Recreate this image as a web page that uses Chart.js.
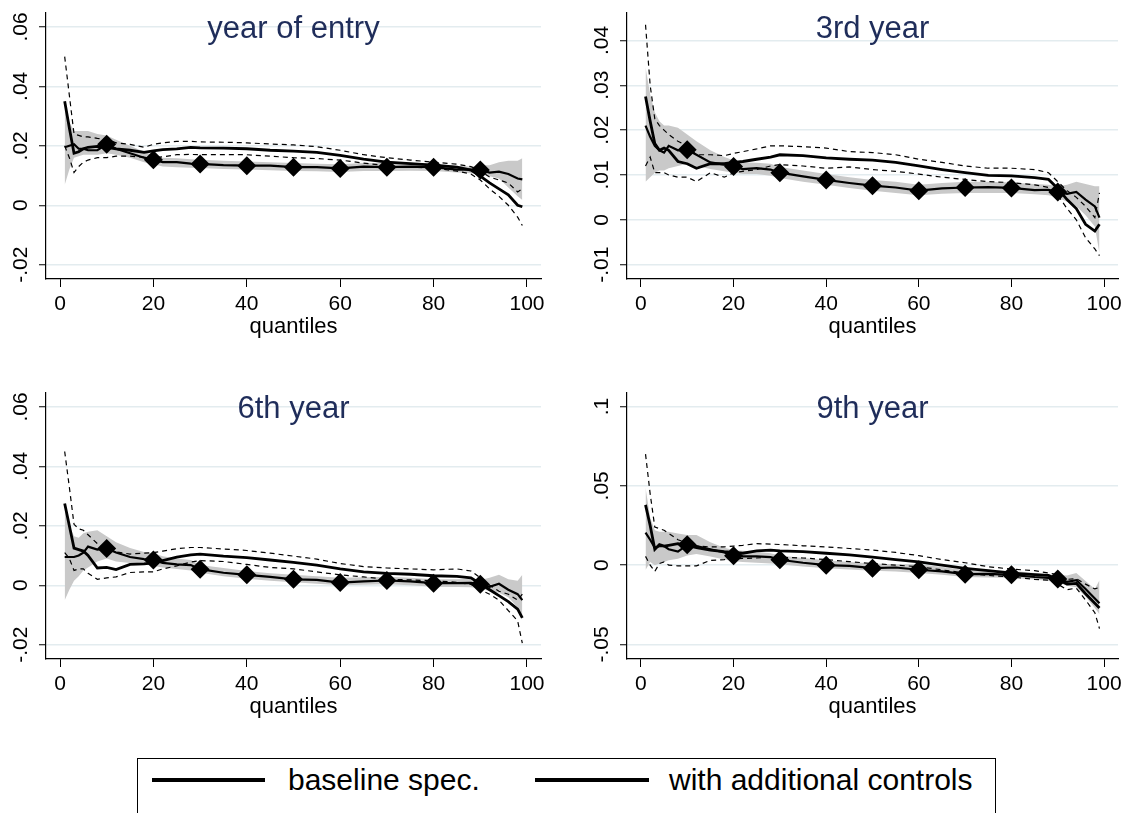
<!DOCTYPE html>
<html>
<head>
<meta charset="utf-8">
<script src="https://cdn.jsdelivr.net/npm/chart.js@4.4.1/dist/chart.umd.min.js"></script>
<style>
  body { margin: 0; background: #fff; width: 1137px; height: 813px; overflow: hidden; position: relative; font-family: "Liberation Sans", Arial, sans-serif; }
  canvas { position: absolute; }
  #legend { position: absolute; left: 137px; top: 758px; width: 859px; height: 80px; border: 1.5px solid #000; box-sizing: border-box; }
  #legend .key { position: absolute; top: 19px; height: 4px; background: #000; }
  #legend .lab { position: absolute; top: 3px; font-size: 30px; line-height: 36px; color: #000; white-space: nowrap; }
</style>
</head>
<body>
<canvas id="p1" width="568" height="340" style="left:0;top:0"></canvas>
<canvas id="p2" width="569" height="340" style="left:568px;top:0"></canvas>
<canvas id="p3" width="568" height="340" style="left:0;top:380px"></canvas>
<canvas id="p4" width="569" height="340" style="left:568px;top:380px"></canvas>
<div id="legend">
  <div class="key" style="left:14px;width:113px"></div>
  <div class="lab" id="lab1" style="left:150px"></div>
  <div class="key" style="left:397px;width:114px"></div>
  <div class="lab" id="lab2" style="left:531px"></div>
</div>
<script>
const Q = [1,2,3,4,5,6,8,10,12,15,18,20,22,25,28,30,35,40,45,50,55,60,65,70,75,80,85,88,90,92,94,96,98,99];
const markerQ = [10,20,30,40,50,60,70,80,90];
const xTicks = [0,20,40,60,80,100];
const panelTitles = ['year of entry', '3rd year', '6th year', '9th year'];
const legendLabels = ['baseline spec.', 'with additional controls'];

// year of entry
const entryBase   = [.0195,.020,.0205,.019,.019,.0185,.0185,.0205,.019,.0175,.016,.0153,.0145,.0145,.014,.0139,.0135,.0133,.0133,.0128,.0128,.0124,.013,.0128,.013,.0128,.012,.012,.0119,.011,.0113,.0105,.009,.0087];
const entryBaseLo = [.0068,.012,.016,.0165,.017,.017,.017,.0175,.017,.016,.0145,.0138,.013,.0128,.0126,.0125,.0122,.012,.0118,.0115,.0114,.0112,.0115,.0115,.0116,.0115,.011,.0108,.0105,.0098,.009,.006,.003,.0018];
const entryBaseHi = [.0325,.028,.025,.025,.025,.025,.024,.0235,.022,.020,.018,.0168,.016,.0158,.0155,.0153,.015,.0147,.0145,.0142,.014,.0138,.0142,.0142,.0143,.014,.0132,.013,.0135,.0135,.0145,.015,.015,.0158];
const entryCtrl   = [.035,.026,.0175,.018,.019,.0195,.0198,.0195,.019,.0185,.0178,.0183,.0187,.019,.0195,.0193,.0192,.019,.0185,.0182,.0178,.0168,.0155,.0145,.014,.0135,.0128,.0118,.0098,.0075,.0055,.0035,.000,-.0005];
const entryCtrlLo = [.020,.016,.011,.013,.0145,.0152,.016,.016,.0165,.0165,.0162,.016,.0163,.017,.0171,.017,.017,.017,.0165,.016,.0157,.0152,.0142,.0133,.0128,.0125,.0115,.0105,.0085,.0055,.003,.000,-.004,-.0068];
const entryCtrlHi = [.050,.037,.024,.0235,.023,.023,.0225,.0222,.021,.0205,.0195,.0205,.021,.0215,.0215,.0213,.0212,.021,.0206,.0203,.0197,.0185,.017,.016,.0152,.0145,.0138,.013,.0115,.0095,.0085,.0075,.0045,.0055];

// 3rd year
const y3Base   = [.021,.0185,.0165,.0155,.015,.0165,.0155,.0156,.0145,.0128,.0123,.0119,.0113,.0115,.0112,.0105,.0097,.0089,.0082,.0076,.0072,.0065,.007,.0072,.0073,.0071,.0066,.0067,.0062,.0058,.0062,.0045,.003,.0005];
const y3BaseLo = [.0085,.0095,.0105,.011,.011,.0115,.012,.0125,.012,.0113,.0108,.0105,.0102,.0102,.0098,.0093,.0085,.0078,.0071,.0065,.006,.0055,.0058,.006,.006,.006,.0057,.0055,.005,.004,.003,.001,-.0015,-.0075];
const y3BaseHi = [.034,.028,.024,.022,.021,.021,.0205,.019,.0175,.0155,.014,.0133,.0128,.0127,.0125,.0118,.011,.0102,.0095,.0089,.0085,.0078,.0082,.0085,.0085,.0083,.008,.0078,.0075,.0078,.0085,.008,.0075,.0075];
const y3Ctrl   = [.0275,.022,.017,.0155,.016,.0155,.013,.0125,.0115,.0125,.0125,.0128,.013,.0135,.014,.0145,.0143,.0138,.0135,.0133,.0128,.012,.0112,.0105,.0099,.0098,.0094,.009,.007,.0045,.0025,-.001,-.0025,-.001];
const y3CtrlLo = [.012,.014,.0105,.0105,.0105,.010,.0095,.0095,.0085,.0105,.0095,.0105,.0108,.0112,.012,.0123,.012,.0115,.0118,.0112,.0108,.0102,.0095,.009,.0085,.0083,.0078,.0072,.0055,.0025,.000,-.004,-.0065,-.008];
const y3CtrlHi = [.0435,.030,.0225,.021,.020,.019,.0175,.0165,.0145,.0145,.0143,.0148,.0152,.0158,.0165,.0165,.0163,.016,.0152,.015,.0145,.0135,.0128,.012,.0115,.0115,.0112,.0105,.0085,.0065,.005,.003,.0005,.006];

// 6th year
const y6Base   = [.0095,.0095,.0095,.010,.011,.013,.012,.0124,.011,.0095,.0088,.0085,.0075,.007,.0068,.0054,.0042,.0035,.0028,.002,.0018,.0009,.0013,.0016,.0013,.0007,.0007,.0008,.0003,-.0005,.0005,-.0015,-.003,-.005];
const y6BaseLo = [-.005,-.0015,.0015,.003,.005,.006,.008,.009,.008,.0075,.007,.0065,.006,.0055,.005,.0042,.003,.0022,.0015,.001,.0005,.000,.0002,.0003,.000,-.0005,-.0006,-.0007,-.001,-.002,-.0025,-.004,-.0075,-.0115];
const y6BaseHi = [.027,.020,.0165,.016,.0175,.018,.0185,.0165,.0145,.0125,.0112,.0108,.0098,.009,.0085,.0068,.0058,.0048,.004,.0035,.003,.0025,.0027,.0029,.0025,.002,.002,.0022,.0018,.0025,.0035,.002,.0015,.0035];
const y6Ctrl   = [.0275,.020,.0125,.012,.0115,.010,.0058,.006,.0053,.007,.0072,.0075,.0083,.0095,.0102,.0105,.0098,.0093,.0085,.0077,.0068,.0055,.0045,.004,.0037,.0032,.003,.0025,.0005,-.0015,-.0035,-.0055,-.008,-.011];
const y6CtrlLo = [.011,.009,.005,.0055,.0055,.004,.002,.0025,.0028,.0043,.0045,.0045,.0055,.0065,.0078,.0083,.008,.007,.006,.0055,.0045,.0035,.0028,.002,.0018,.0015,.001,.0003,-.0015,-.003,-.005,-.0085,-.012,-.0195];
const y6CtrlHi = [.045,.033,.0205,.019,.0185,.017,.014,.0125,.0112,.0105,.0108,.011,.0115,.0123,.0127,.0127,.0122,.0117,.0108,.0098,.0088,.0073,.0063,.0058,.0055,.0052,.0055,.0048,.0025,.000,-.002,-.003,-.005,-.003];

// 9th year
const y9Base   = [.0205,.016,.011,.012,.012,.010,.0085,.0128,.012,.010,.008,.0059,.0055,.0055,.005,.0034,.0015,.000,-.0005,-.0019,-.0015,-.0029,-.004,-.0057,-.0055,-.0061,-.0075,-.008,-.0088,-.0105,-.0095,-.015,-.021,-.024];
const y9BaseLo = [-.003,.002,.000,.001,.002,.003,.004,.006,.007,.0055,.0035,.0025,.002,.0015,.001,.0005,-.0008,-.002,-.0028,-.0035,-.004,-.005,-.006,-.0075,-.0078,-.008,-.009,-.010,-.011,-.013,-.014,-.020,-.027,-.031];
const y9BaseHi = [.049,.030,.022,.021,.021,.021,.020,.019,.019,.0145,.011,.0095,.009,.0085,.0075,.006,.0045,.003,.002,.001,.0005,.0005,-.0012,-.003,-.003,-.0035,-.005,-.006,-.006,-.0065,-.005,-.010,-.015,-.0095];
const y9Ctrl   = [.038,.025,.010,.013,.012,.0125,.0135,.0125,.011,.0095,.0085,.008,.0075,.009,.0095,.009,.0085,.0075,.0065,.005,.0035,.002,.000,-.002,-.0035,-.005,-.006,-.0065,-.009,-.012,-.0115,-.018,-.024,-.027];
const y9CtrlLo = [.0055,.000,-.004,.001,.002,.000,-.0005,-.0005,-.0005,.003,.0035,.004,.0042,.0045,.005,.005,.0045,.0035,.0022,.001,.000,-.001,-.003,-.005,-.0065,-.0075,-.009,-.0095,-.012,-.0155,-.0145,-.022,-.030,-.040];
const y9CtrlHi = [.070,.045,.024,.023,.022,.020,.016,.014,.012,.0115,.0115,.012,.0125,.0135,.0133,.013,.0122,.0115,.0105,.0095,.008,.006,.0035,.0015,-.001,-.0025,-.0035,-.005,-.006,-.009,-.0085,-.012,-.015,-.014];

const yTicksA = [-0.02, 0, 0.02, 0.04, 0.06];
const yLabelsA = ['-.02', '0', '.02', '.04', '.06'];
const yTicks3rd = [-0.01, 0, 0.01, 0.02, 0.03, 0.04];
const yLabels3rd = ['-.01', '0', '.01', '.02', '.03', '.04'];
const yTicks9th = [-0.05, 0, 0.05, 0.1];
const yLabels9th = ['-.05', '0', '.05', '.1'];

const FONT = '"Liberation Sans", Arial, sans-serif';

document.getElementById('lab1').textContent = legendLabels[0];
document.getElementById('lab2').textContent = legendLabels[1];

function pts(vals) {
  return Q.map((q, i) => ({x: q, y: vals[i]}));
}

// title sits inside the plot region, like Stata does it
const panelTitle = {
  id: 'panelTitle',
  afterDraw(chart, args, opts) {
    const {ctx, chartArea} = chart;
    ctx.save();
    ctx.font = '31px ' + FONT;
    ctx.fillStyle = '#1f2d5a';
    ctx.textAlign = 'center';
    ctx.textBaseline = 'middle';
    ctx.fillText(opts.text, (chartArea.left + chartArea.right) / 2, opts.y);
    ctx.restore();
  }
};

function makePanel(id, title, s, yTicks, yLabels, yMin, yMax, axisW, padRight) {
  new Chart(document.getElementById(id), {
    type: 'line',
    data: {
      datasets: [
        { data: pts(s[3]), borderColor: '#000', borderWidth: 2.8, pointRadius: 0, fill: false },
        { data: pts(s[0]), borderColor: '#000', borderWidth: 2.2, fill: false,
          pointStyle: 'rectRot',
          pointRadius: c => markerQ.includes(Q[c.dataIndex]) ? 9.5 : 0,
          pointBackgroundColor: '#000', pointBorderColor: '#000', pointBorderWidth: 0 },
        { data: pts(s[5]), borderColor: '#000', borderWidth: 1.2, borderDash: [5, 4], pointRadius: 0, fill: false },
        { data: pts(s[4]), borderColor: '#000', borderWidth: 1.2, borderDash: [5, 4], pointRadius: 0, fill: false },
        { data: pts(s[1]), borderWidth: 0, pointRadius: 0, fill: false },
        { data: pts(s[2]), borderWidth: 0, pointRadius: 0, fill: 4, backgroundColor: '#c9c9c9' }
      ]
    },
    options: {
      responsive: false,
      animation: false,
      events: [],
      layout: { padding: { left: 0, right: padRight, top: 12, bottom: 0 } },
      plugins: {
        legend: { display: false },
        tooltip: { enabled: false },
        filler: { drawTime: 'beforeDatasetsDraw' },
        panelTitle: { text: title, y: 29 }
      },
      scales: {
        x: {
          type: 'linear', min: -3, max: 103,
          afterBuildTicks: sc => { sc.ticks = xTicks.map(v => ({value: v})); },
          afterFit: sc => { sc.height = 61; },
          ticks: { color: '#000', font: { size: 21, family: FONT }, padding: 5, maxRotation: 0, autoSkip: false },
          grid: { drawOnChartArea: false, tickLength: 8, tickColor: '#000', tickWidth: 1 },
          border: { color: '#000', width: 1.2 },
          title: { display: true, text: 'quantiles', color: '#000', font: { size: 22, family: FONT }, padding: { top: 0, bottom: 0 } }
        },
        y: {
          type: 'linear', min: yMin, max: yMax,
          afterBuildTicks: sc => { sc.ticks = yTicks.map(v => ({value: v})); },
          afterFit: sc => { sc.width = axisW; },
          ticks: { color: '#000', font: { size: 21, family: FONT }, minRotation: 90, maxRotation: 90,
                   crossAlign: 'center', padding: 0, autoSkip: false,
                   callback: (v, i) => yLabels[i] },
          grid: { color: '#e3ecef', lineWidth: 1.5, tickLength: 7, tickColor: '#000', tickWidth: 1 },
          border: { color: '#000', width: 1.2 }
        }
      }
    },
    plugins: [panelTitle]
  });
}

makePanel('p1', panelTitles[0], [entryBase, entryBaseLo, entryBaseHi, entryCtrl, entryCtrlLo, entryCtrlHi],
          yTicksA, yLabelsA, -0.0248, 0.0648, 46, 27);
makePanel('p2', panelTitles[1], [y3Base, y3BaseLo, y3BaseHi, y3Ctrl, y3CtrlLo, y3CtrlHi],
          yTicks3rd, yLabels3rd, -0.0132, 0.0462, 59, 19);
makePanel('p3', panelTitles[2], [y6Base, y6BaseLo, y6BaseHi, y6Ctrl, y6CtrlLo, y6CtrlHi],
          yTicksA, yLabelsA, -0.0248, 0.0648, 46, 27);
makePanel('p4', panelTitles[3], [y9Base, y9BaseLo, y9BaseHi, y9Ctrl, y9CtrlLo, y9CtrlHi],
          yTicks9th, yLabels9th, -0.0592, 0.1088, 59, 19);
</script>
</body>
</html>
